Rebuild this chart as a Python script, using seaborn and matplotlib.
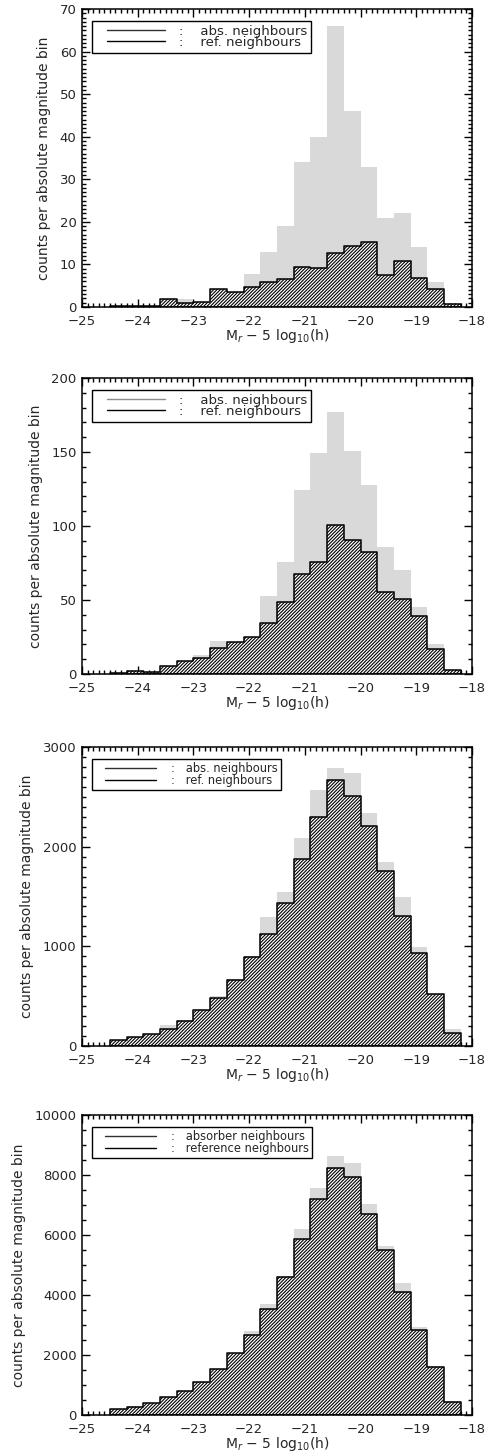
import numpy as np
import pandas as pd
import matplotlib
matplotlib.use("Agg")
import matplotlib.pyplot as plt
from matplotlib.lines import Line2D
from matplotlib.legend_handler import HandlerLine2D
from matplotlib.ticker import MultipleLocator
import seaborn as sns

# ---------------- data ----------------
bin_edges = [float(v) for v in np.round(np.arange(-24.5, -18.2 + 0.001, 0.3), 2)]
bin_centers = [round((a + b) / 2, 3) for a, b in zip(bin_edges[:-1], bin_edges[1:])]

abs_counts_1 = [0, 0, 0, 0, 1.9, 0.8, 3.0, 3.0, 7.8, 13, 19, 34, 40, 66, 46, 33, 21, 22, 14, 5.9, 0.6]
ref_counts_1 = [0.3, 0.3, 0.3, 1.9, 0.9, 1.2, 4.2, 3.5, 4.8, 5.9, 6.6, 9.5, 9.1, 12.6, 14.3, 15.2, 7.5, 10.9, 6.8, 4.2, 0.6]

abs_counts_2 = [0.5, 1, 0.8, 4, 7, 12.6, 22.5, 21, 25, 53, 76, 124, 149, 177, 151, 128, 86, 70, 45, 20.5, 2.5]
ref_counts_2 = [0.9, 1.8, 1.1, 5.4, 8.6, 10.8, 17.3, 21.8, 25.2, 34.5, 48.6, 67.6, 75.5, 100.7, 90.8, 82.4, 55.4, 50.9, 39.2, 16.7, 2.7]

abs_counts_3 = [50, 80, 124, 211, 261, 361, 505, 669, 900, 1291, 1542, 2087, 2565, 2789, 2739, 2341, 1846, 1492, 990, 525, 167]
ref_counts_3 = [57, 90, 120, 174, 254, 358, 485, 666, 896, 1120, 1438, 1873, 2301, 2672, 2512, 2204, 1759, 1308, 936, 525, 134]

abs_counts_4 = [200, 290, 400, 600, 810, 1110, 1530, 2078, 2811, 3700, 4644, 6211, 7556, 8633, 8411, 7022, 5644, 4411, 2944, 1633, 467]
ref_counts_4 = [189, 278, 389, 589, 800, 1100, 1522, 2067, 2678, 3533, 4589, 5856, 7200, 8244, 7933, 6711, 5489, 4100, 2833, 1589, 444]

y_limits = [70, 200, 3000, 10000]
y_major = [10, 50, 1000, 2000]
y_minor = [1, 10, 100, 500]
legend_labels = [
    ("abs. neighbours", "ref. neighbours"),
    ("abs. neighbours", "ref. neighbours"),
    ("abs. neighbours", "ref. neighbours"),
    ("absorber neighbours", "reference neighbours"),
]
x_label = "M$_r$ \u2212 5 log$_{10}$(h)"
y_label = "counts per absolute magnitude bin"

# ---------------- style ----------------
sns.set_style("ticks")
plt.rcParams["font.family"] = ["DejaVu Sans"]
plt.rcParams["mathtext.fontset"] = "dejavusans"
plt.rcParams["hatch.linewidth"] = 0.8
plt.rcParams["hatch.color"] = "#202020"

fig = plt.figure(figsize=(4.88, 14.52), dpi=100)
W, H = 488.0, 1452.0
left_px, right_px = 82, 472
panel_px = [(9, 307), (378, 674), (747, 1046), (1115, 1415)]

abs_all = [abs_counts_1, abs_counts_2, abs_counts_3, abs_counts_4]
ref_all = [ref_counts_1, ref_counts_2, ref_counts_3, ref_counts_4]
leg_first_colors = ["#303030", "#8c8c8c", "#303030", "#303030"]
leg_fs = [9.5, 9.5, 8.3, 8.3]
leg_sep = [":    ", ":    ", ":   ", ":   "]

for i in range(4):
    top, bot = panel_px[i]
    ax = fig.add_axes([left_px / W, 1 - bot / H, (right_px - left_px) / W, (bot - top) / H])
    df = pd.DataFrame({"mag": bin_centers, "abs": abs_all[i], "ref": ref_all[i]})
    sns.histplot(data=df, x="mag", weights="abs", bins=bin_edges, element="step",
                 fill=True, facecolor="#d9d9d9", edgecolor="none", linewidth=0,
                 alpha=1, ax=ax)
    sns.histplot(data=df, x="mag", weights="ref", bins=bin_edges, element="step",
                 fill=True, facecolor="white", edgecolor="black", hatch="//////////",
                 linewidth=1.1, alpha=1, ax=ax)

    ax.set_xlim(-25, -18)
    ax.set_ylim(0, y_limits[i])
    ax.xaxis.set_major_locator(MultipleLocator(1))
    ax.xaxis.set_minor_locator(MultipleLocator(0.1))
    ax.yaxis.set_major_locator(MultipleLocator(y_major[i]))
    ax.yaxis.set_minor_locator(MultipleLocator(y_minor[i]))
    ax.tick_params(which="both", direction="in", top=True, right=True, width=1,
                   labelsize=9.5, color="black")
    ax.tick_params(which="major", length=6)
    ax.tick_params(which="minor", length=3)
    ax.tick_params(axis="x", which="major", pad=6)
    ax.tick_params(axis="y", which="major", pad=4)
    for sp in ax.spines.values():
        sp.set_linewidth(1.1)
        sp.set_color("black")
    ax.set_xlabel(x_label, fontsize=10, labelpad=-1)
    ax.set_ylabel(y_label, fontsize=10, labelpad=6)

    fs = leg_fs[i]
    handles = [Line2D([], [], color=leg_first_colors[i], lw=1.0),
               Line2D([], [], color="black", lw=1.0)]
    labels = [leg_sep[i] + legend_labels[i][0], leg_sep[i] + legend_labels[i][1]]
    hm = {Line2D: HandlerLine2D(marker_pad=0.8, numpoints=2)}
    leg = ax.legend(handles, labels, loc="upper left", bbox_to_anchor=(0.026, 0.96),
                    borderaxespad=0, frameon=True, fancybox=False, edgecolor="black",
                    framealpha=1, handlelength=6.0, handletextpad=0.3 if i < 2 else 0.5,
                    borderpad=0.3, labelspacing=-0.15, fontsize=fs, handler_map=hm)
    leg.get_frame().set_linewidth(1.0)

fig.savefig("out.png", dpi=100)
